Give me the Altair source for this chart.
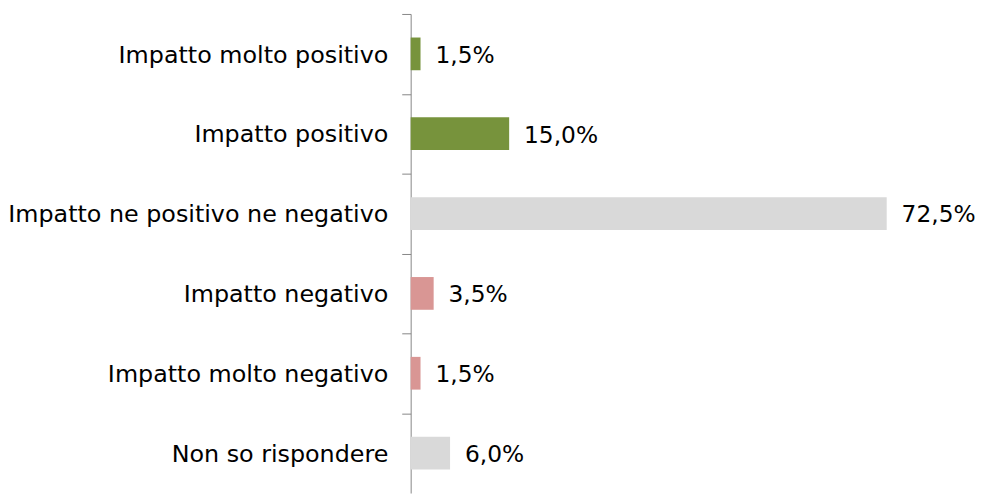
import altair as alt
import pandas as pd

categories = [
    "Impatto molto positivo",
    "Impatto positivo",
    "Impatto ne positivo ne negativo",
    "Impatto negativo",
    "Impatto molto negativo",
    "Non so rispondere",
]
values = [1.5, 15.0, 72.5, 3.5, 1.5, 6.0]
groups = ["pos", "pos", "neutral", "neg", "neg", "neutral"]
group_names = ["pos", "neutral", "neg"]
group_colors = ["#77933C", "#D9D9D9", "#D99694"]

df = pd.DataFrame({"cat": categories, "v": values, "g": groups})

FONT = "DejaVu Sans"
FS = 24

y = alt.Y(
    "cat:N",
    sort=categories,
    title=None,
    scale=alt.Scale(paddingInner=0.59, paddingOuter=0.295),
    axis=alt.Axis(
        tickOffset=-40.25,
        labelOffset=41.5,
        tickSize=9,
        tickColor="#868686",
        domainColor="#868686",
        labelFont=FONT,
        labelFontSize=FS,
        labelColor="#000000",
        labelPadding=14,
        labelLimit=500,
    ),
)
x = alt.X("v:Q", title=None, scale=alt.Scale(domain=[0, 86.1]), axis=None)

bars = alt.Chart(df).mark_bar().encode(
    x=x,
    y=y,
    color=alt.Color(
        "g:N",
        scale=alt.Scale(domain=group_names, range=group_colors),
        legend=None,
    ),
)

labels = alt.Chart(df).transform_calculate(
    lab="replace(format(datum.v, '.1f'), '.', ',') + '%'"
).mark_text(align="left", baseline="middle", dx=15, dy=2, font=FONT, fontSize=23.5, color="#000000").encode(
    x=x, y=y, text="lab:N"
)

chart = (
    alt.layer(bars, labels)
    .properties(
        width=570,
        height=483,
        autosize="none",
        background="#ffffff",
        padding={"left": 406, "top": 4, "right": 0, "bottom": 0},
    )
    .configure_view(strokeWidth=0)
)

chart.save("out.html", embed_options={"renderer": "svg", "actions": False})
